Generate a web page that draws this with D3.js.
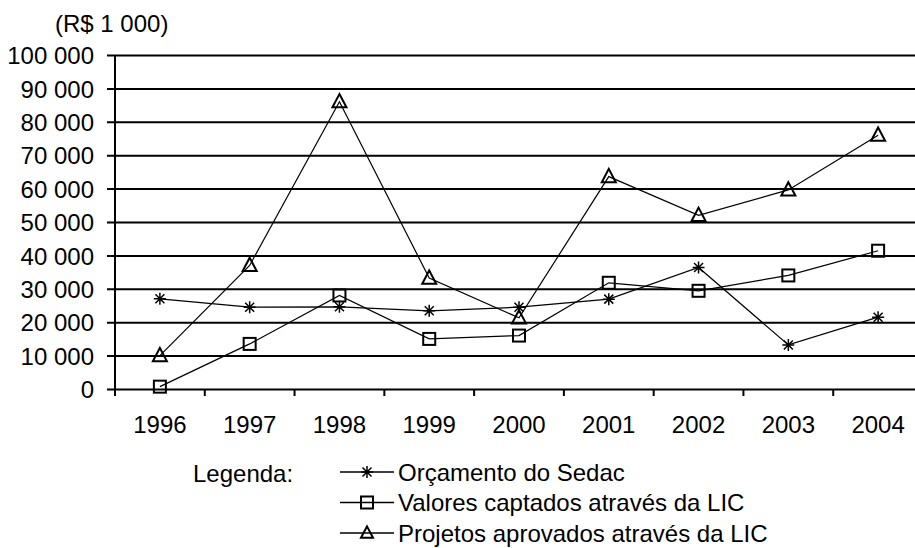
<!DOCTYPE html>
<html>
<head>
<meta charset="utf-8">
<script src="https://cdn.jsdelivr.net/npm/d3@7"></script>
<style>
  body { margin: 0; background: #fff; }
  text { font-family: "Liberation Sans", Arial, sans-serif; fill: #000; font-size: 24px; }
</style>
</head>
<body>
<div id="chart"></div>
<script>
// data (R$ 1 000)
var years = ["1996", "1997", "1998", "1999", "2000", "2001", "2002", "2003", "2004"];
var orcamento = [27000, 24500, 24600, 23400, 24500, 26900, 36400, 13200, 21500];
var valores = [700, 13500, 28000, 15000, 16000, 31800, 29400, 34000, 41400];
var projetos = [10000, 37000, 86000, 33200, 21300, 63600, 52000, 59600, 76000];
var yTicks = [0, 10000, 20000, 30000, 40000, 50000, 60000, 70000, 80000, 90000, 100000];
var seriesNames = ["Orçamento do Sedac", "Valores captados através da LIC", "Projetos aprovados através da LIC"];

var W = 915, H = 548;
var plotLeft = 115, plotRight = 923, plotTop = 55, plotBottom = 389;

var svg = d3.select("#chart")
  .append("svg")
    .attr("width", W)
    .attr("height", H);

var x = d3.scaleBand()
  .domain(years)
  .range([plotLeft, plotRight]);

var y = d3.scaleLinear()
  .domain([0, 100000])
  .range([plotBottom, plotTop]);

var fmt = d3.formatLocale({decimal: ",", thousands: " ", grouping: [3], currency: ["R$", ""]}).format(",d");

// gridlines + y labels
var yAxis = svg.append("g")
  .attr("transform", "translate(" + plotLeft + ",0)")
  .call(d3.axisLeft(y)
          .tickValues(yTicks)
          .tickSize(8)
          .tickPadding(13)
          .tickFormat(fmt));
yAxis.attr("font-family", null).attr("font-size", null);
yAxis.select(".domain").remove();
yAxis.selectAll(".tick line")
  .attr("x1", -8)
  .attr("x2", plotRight - plotLeft)
  .attr("stroke", "#000")
  .attr("stroke-width", 2);
yAxis.selectAll(".tick text")
  .attr("dy", "0.36em");

// y axis line (runs a little below zero, like a tick)
svg.append("line")
  .attr("x1", plotLeft).attr("x2", plotLeft)
  .attr("y1", y(100000)).attr("y2", plotBottom + 7)
  .attr("stroke", "#000").attr("stroke-width", 2);

// x axis ticks at category boundaries
svg.append("g")
  .selectAll("line")
  .data(years.slice(1))
  .enter()
  .append("line")
    .attr("x1", d => x(d)).attr("x2", d => x(d))
    .attr("y1", plotBottom).attr("y2", plotBottom + 7)
    .attr("stroke", "#000").attr("stroke-width", 2);

svg.append("g")
  .selectAll("text")
  .data(years)
  .enter()
  .append("text")
    .attr("x", d => x(d) + x.bandwidth() / 2)
    .attr("y", 433)
    .attr("text-anchor", "middle")
    .text(d => d);

// unit label
svg.append("text")
  .attr("x", 55)
  .attr("y", 32)
  .text("(R$ 1 000)");

var cx = d => x(d) + x.bandwidth() / 2;

var line = d3.line()
  .x(d => cx(d[0]))
  .y(d => y(d[1]));

// marker shapes
function star(g, px, py, s) {
  g.append("path")
    .attr("d", "M" + (px - s) + "," + py + "H" + (px + s) +
               "M" + px + "," + (py - s) + "V" + (py + s) +
               "M" + (px - s * 0.75) + "," + (py - s * 0.75) + "L" + (px + s * 0.75) + "," + (py + s * 0.75) +
               "M" + (px - s * 0.75) + "," + (py + s * 0.75) + "L" + (px + s * 0.75) + "," + (py - s * 0.75))
    .attr("stroke", "#000").attr("stroke-width", 1.5).attr("fill", "none");
}
function square(g, px, py, s) {
  g.append("rect")
    .attr("x", px - s).attr("y", py - s)
    .attr("width", 2 * s).attr("height", 2 * s)
    .attr("fill", "none").attr("stroke", "#000").attr("stroke-width", 2);
}
function triangle(g, px, py, s) {
  g.append("path")
    .attr("d", "M" + px + "," + (py - s * 1.1) + "L" + (px + s) + "," + (py + s * 0.8) + "L" + (px - s) + "," + (py + s * 0.8) + "Z")
    .attr("fill", "none").attr("stroke", "#000").attr("stroke-width", 2);
}

var series = [
  {values: orcamento, mark: star, size: 6},
  {values: valores, mark: square, size: 6},
  {values: projetos, mark: triangle, size: 7}
];

series.forEach(function(s) {
  var pts = years.map((yr, i) => [yr, s.values[i]]);
  svg.append("path")
    .datum(pts)
    .attr("fill", "none")
    .attr("stroke", "#000")
    .attr("stroke-width", 1.2)
    .attr("d", line);
  var g = svg.append("g");
  pts.forEach(p => s.mark(g, cx(p[0]), y(p[1]), s.size));
});

// legend
svg.append("text")
  .attr("x", 193)
  .attr("y", 482)
  .text("Legenda:");

series.forEach(function(s, i) {
  var ly = 472 + i * 30.5;
  var g = svg.append("g");
  g.append("line")
    .attr("x1", 340).attr("x2", 394)
    .attr("y1", ly).attr("y2", ly)
    .attr("stroke", "#000").attr("stroke-width", 1.5);
  s.mark(g, 367, ly, 6);
  g.append("text")
    .attr("x", 398)
    .attr("y", ly + 8.6)
    .text(seriesNames[i]);
});
</script>
</body>
</html>
